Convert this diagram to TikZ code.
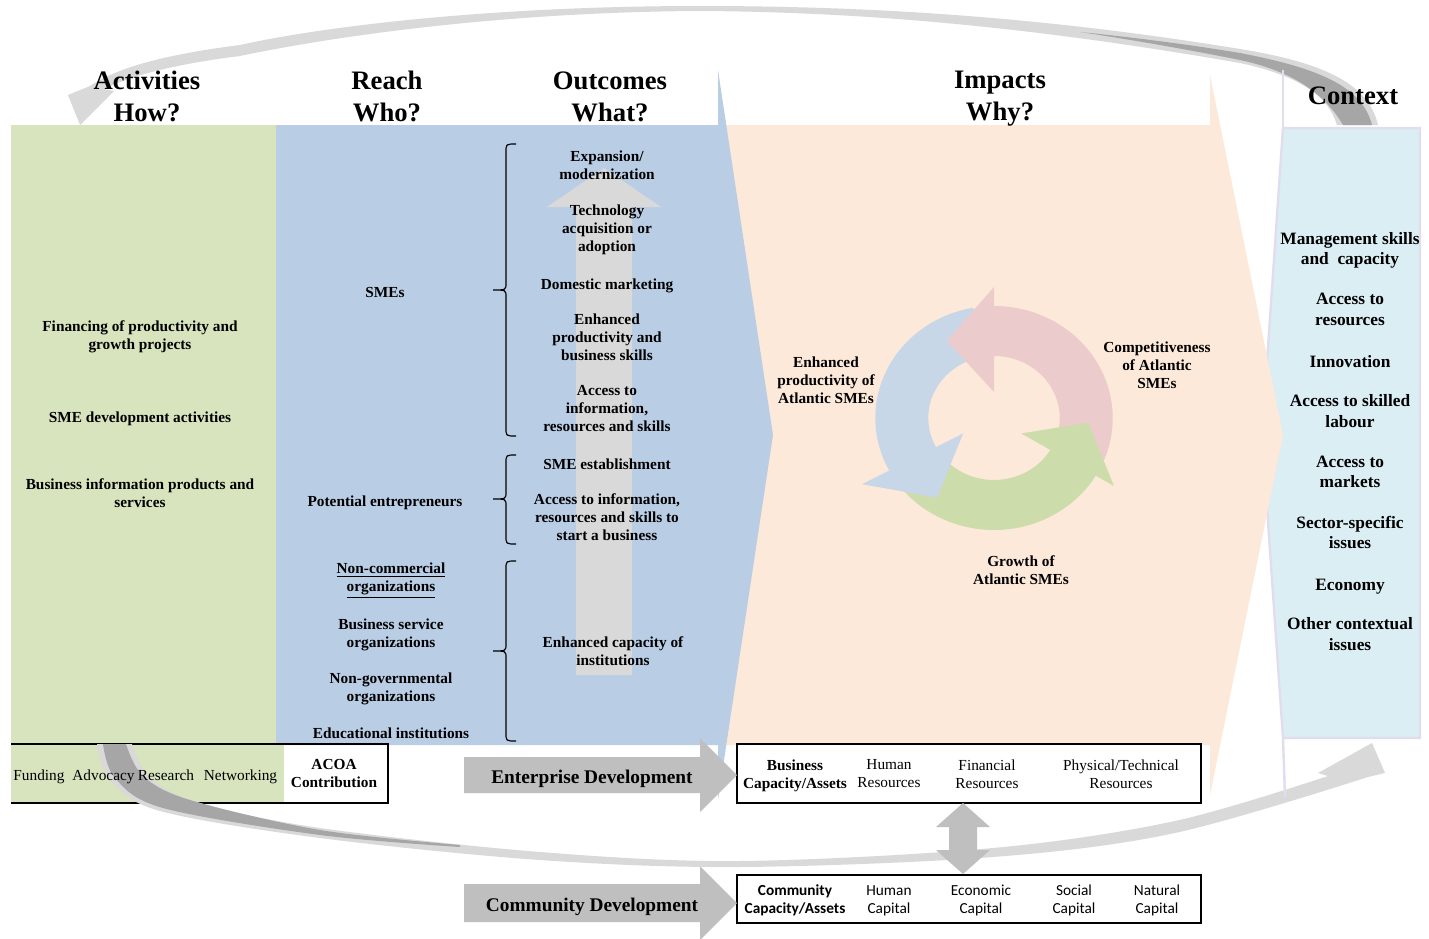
\documentclass[tikz,border=0pt]{standalone}
\usepackage{fontspec}
\setmainfont{Liberation Serif}
\newfontfamily\carl{Carlito}
\definecolor{cgreen}{HTML}{D7E4BD}
\definecolor{cblue}{HTML}{B9CDE5}
\definecolor{cpeach}{HTML}{FDE9D9}
\definecolor{cctx}{HTML}{DBEEF4}
\definecolor{clav}{HTML}{E2DDEE}
\definecolor{lgray}{HTML}{D9D9D9}
\definecolor{dgray}{HTML}{A6A6A6}
\definecolor{mgray}{HTML}{BFBFBF}
\definecolor{cyblue}{HTML}{C8D7E8}
\definecolor{cypink}{HTML}{EBCBCB}
\definecolor{cygreen}{HTML}{CCDCAB}
\tikzset{
  stt/.style={execute at begin node=\strut, execute at end node=\strut},
  btxt/.style={font=\bfseries\fontsize{11.5}{13.5}\selectfont, align=center, inner sep=0pt, stt, yshift=-1.9pt},
  rtxt/.style={font=\fontsize{11.5}{13.5}\selectfont, align=center, inner sep=0pt, stt, yshift=-1.9pt},
  ctxt/.style={font=\bfseries\fontsize{13}{15.4}\selectfont, align=center, inner sep=0pt, stt, yshift=-2.25pt},
  hdr/.style={font=\bfseries\fontsize{20}{24}\selectfont, align=center, inner sep=0pt, stt, yshift=-3.9pt},
  dev/.style={font=\bfseries\fontsize{14.5}{17}\selectfont, inner sep=0pt, stt, yshift=-2.25pt},
  cal/.style={font=\carl\fontsize{11.5}{13.5}\selectfont, align=center, inner sep=0pt, stt, yshift=-2.1pt},
  calb/.style={font=\carl\bfseries\fontsize{11.5}{13.5}\selectfont, align=center, inner sep=0pt, stt, yshift=-2.1pt},
  brc/.style={draw=black, line width=0.9pt},
  boxline/.style={draw=black, line width=0.9pt},
}
\newcommand{\mybrc}[3]{\draw[brc] (516,#1) .. controls (506,#1) .. (506,{#1+8}) -- (506,{#2-7}) .. controls (506,#2) .. (493,#2) .. controls (506,#2) .. (506,{#2+7}) -- (506,{#3-8}) .. controls (506,#3) .. (516,#3);}
\begin{document}
\begin{tikzpicture}[x=0.75pt,y=-0.75pt]
\useasboundingbox (0,0) rectangle (1429,939);
\fill[white] (0,0) rectangle (1429,939);

% context panel
\filldraw[fill=cctx, draw=clav, line width=1.8pt] (1283,128) -- (1420,128) -- (1420,738) -- (1283,738) -- (1262,435) -- cycle;
% peach impacts arrow
\fill[cpeach] (718,125) -- (1210,125) -- (1210,75) -- (1283,435) -- (1210,795) -- (1210,745) -- (718,745) -- cycle;
% blue reach/outcomes arrow
\fill[cblue] (276,125) -- (718,125) -- (718,70) -- (773,435) -- (718,800) -- (718,745) -- (276,745) -- cycle;
% green activities
\fill[cgreen] (11,125) rectangle (276,745);
% outcomes vertical arrow
\fill[lgray] (576,675) -- (576,207) -- (547,207) -- (604,168) -- (661,207) -- (632,207) -- (632,675) -- cycle;

% cycle
\begin{scope}[shift={(994,418)}, yscale=-1, xscale=1.06]
  \fill[cyblue] (100:112) arc[start angle=100, end angle=208.5, radius=112] -- (208.5:62) arc[start angle=208.5, end angle=100, radius=62] -- cycle;
  \fill[cygreen] (213:112) arc[start angle=213, end angle=329.5, radius=112] -- (329.5:62) arc[start angle=329.5, end angle=213, radius=62] -- cycle;
  \fill[cypink] (-25:112) arc[start angle=-25, end angle=90.5, radius=112] -- (90.5:62) arc[start angle=90.5, end angle=-25, radius=62] -- cycle;
  \fill[cyblue] (208:141) -- (236:96) -- (208:33) -- cycle;
  \fill[cygreen] (329:132) -- (357:89) -- (329:30) -- cycle;
  \fill[cypink] (90:131) -- (120:89) -- (90:26) -- cycle;
\end{scope}

% bottom-left box
\fill[cgreen] (11,744) rectangle (284,803);
\draw[boxline] (11,744) -- (388,744) -- (388,803) -- (11,803);
% business and community boxes
\node[draw=black, line width=0.9pt, minimum width=464*0.75pt, minimum height=59*0.75pt, inner sep=0pt] (bus) at (969,773.5) {};
\node[draw=black, line width=0.9pt, minimum width=464*0.75pt, minimum height=48*0.75pt, inner sep=0pt] (com) at (969,899) {};

% development arrows
\fill[mgray] (464,757) -- (700,757) -- (700,738) -- (737,775) -- (700,812) -- (700,793) -- (464,793) -- cycle;
\fill[mgray] (464,884) -- (700,884) -- (700,866) -- (737,903) -- (700,940) -- (700,922) -- (464,922) -- cycle;

% top curved arrow
\fill[lgray] (1378,125) .. controls (1368,82) and (1320,62) .. (1240,49)
  .. controls (1050,18) and (880,6) .. (700,6)
  .. controls (500,6) and (330,25) .. (240,45)
  .. controls (170,54) and (120,66) .. (90,86) -- (68,95) -- (80,125) -- (114,91) -- (104,89)
  .. controls (130,76) and (175,64) .. (240,56)
  .. controls (330,37) and (500,12) .. (700,11)
  .. controls (880,12) and (1050,30) .. (1240,63)
  .. controls (1300,76) and (1328,96) .. (1337,125) -- cycle;
\fill[dgray] (1372,125) .. controls (1362,86) and (1318,68) .. (1240,53)
  .. controls (1180,43) and (1120,36) .. (1080,32)
  .. controls (1120,38) and (1180,48) .. (1240,60)
  .. controls (1296,72) and (1326,96) .. (1343,125) -- cycle;

% bottom curved arrow
\fill[lgray] plot[smooth, tension=0.55] coordinates {(132,744) (150,778) (200,803) (320,828) (540,852) (740,861) (993,848) (1175,821) (1328,776)}
  -- (1318,773) -- (1372,743) -- (1385,773) -- (1368,777)
  -- plot[smooth, tension=0.55] coordinates {(1368,777) (1175,833) (993,857) (740,867) (540,860) (320,838) (160,811) (110,780) (97,744)} -- cycle;
\fill[dgray] plot[smooth, tension=0.55] coordinates {(126,744) (143,776) (190,800) (320,830) (460,845)}
  -- plot[smooth, tension=0.55] coordinates {(460,847) (320,835) (163,808) (115,778) (103,744)} -- cycle;

% double arrow between boxes
\fill[mgray] (963,803) -- (990,827) -- (977,827) -- (977,850) -- (990,850) -- (963,874) -- (936,850) -- (949,850) -- (949,827) -- (936,827) -- cycle;

% lavender lines over the band
\draw[clav, line width=1.8pt] (1283,70) -- (1283,128);
\draw[clav, line width=1.8pt] (1283,738) -- (1285,797);

% braces
\mybrc{144}{290}{436}
\mybrc{455}{499}{544}
\mybrc{561}{651}{741}

% headers
\node[hdr] (hact) at (147,96) {Activities\\How?};
\node[hdr] (hreach) at (387,96) {Reach\\Who?};
\node[hdr] (hout) at (610,96) {Outcomes\\What?};
\node[hdr] (himp) at (1000,95) {Impacts\\Why?};
\node[hdr] (hctx) at (1353,93) {Context};

% activities
\node[btxt] (a1) at (140,335) {Financing of productivity and\\growth projects};
\node[btxt] (a2) at (140,416) {SME development activities};
\node[btxt] (a3) at (140,493) {Business information products and\\services};

% reach
\node[btxt] (r1) at (385,291) {SMEs};
\node[btxt] (r2) at (385,500) {Potential entrepreneurs};
\node[btxt] (r3) at (391,578) {\underline{Non-commercial}\\\underline{organizations}};
\node[btxt] (r4) at (391,633) {Business service\\organizations};
\node[btxt] (r5) at (391,687) {Non-governmental\\organizations};
\node[btxt] (r6) at (391,732) {Educational institutions};

% outcomes
\node[btxt] (o1) at (607,165) {Expansion/\\modernization};
\node[btxt] (o2) at (607,228) {Technology\\acquisition or\\adoption};
\node[btxt] (o3) at (607,283) {Domestic marketing};
\node[btxt] (o4) at (607,337) {Enhanced\\productivity and\\business skills};
\node[btxt] (o5) at (607,409) {Access to\\information,\\resources and skills};
\node[btxt] (o6) at (607,463) {SME establishment};
\node[btxt] (o7) at (607,517) {Access to information,\\resources and skills to\\start a business};
\node[btxt] (o8) at (613,651) {Enhanced capacity of\\institutions};

% impacts
\node[btxt] (i1) at (826,380) {Enhanced\\productivity of\\Atlantic SMEs};
\node[btxt] (i2) at (1157,365) {Competitiveness\\of Atlantic\\SMEs};
\node[btxt] (i3) at (1021,570) {Growth of\\Atlantic SMEs};

% context
\node[ctxt] (c1) at (1350,248.5) {Management skills\\and\ \ capacity};
\node[ctxt] (c2) at (1350,309.5) {Access to\\resources};
\node[ctxt] (c3) at (1350,360) {Innovation};
\node[ctxt] (c4) at (1350,411) {Access to skilled\\labour};
\node[ctxt] (c5) at (1350,472) {Access to\\markets};
\node[ctxt] (c6) at (1350,532.5) {Sector-specific\\issues};
\node[ctxt] (c7) at (1350,583) {Economy};
\node[ctxt] (c8) at (1350,634) {Other contextual\\issues};

% bottom-left box texts
\node[rtxt] (f1) at (39,774) {Funding};
\node[rtxt] (f2) at (103.5,774) {Advocacy};
\node[rtxt] (f3) at (166,774) {Research};
\node[rtxt] (f4) at (240.5,774) {Networking};
\node[btxt] (acoa) at (334,774) {ACOA\\Contribution};

% development labels
\node[dev] (ent) at (592,776) {Enterprise Development};
\node[dev] (comd) at (592,904) {Community Development};

% business box texts
\node[btxt] (b1) at (795,774) {Business\\Capacity/Assets};
\node[rtxt] (b2) at (889,774) {Human\\Resources};
\node[rtxt] (b3) at (987,774) {Financial\\Resources};
\node[rtxt] (b4) at (1121,774) {Physical/Technical\\Resources};

% community box texts
\node[calb] (k1) at (795,899) {Community\\Capacity/Assets};
\node[cal] (k2) at (889,899) {Human\\Capital};
\node[cal] (k3) at (981,899) {Economic\\Capital};
\node[cal] (k4) at (1074,899) {Social\\Capital};
\node[cal] (k5) at (1157,899) {Natural\\Capital};
\end{tikzpicture}
\end{document}
